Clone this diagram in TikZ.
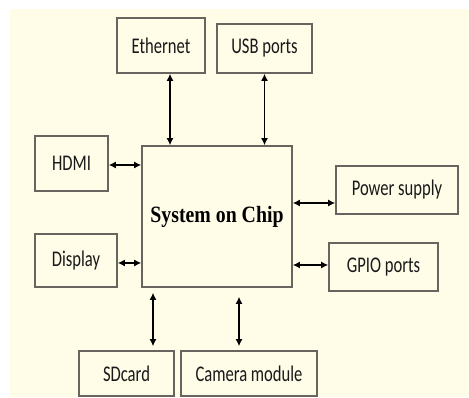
\documentclass[tikz,border=0pt]{standalone}
\usepackage{fontspec}
\setmainfont{Liberation Serif}
\newfontfamily\boxfont{Carlito}
\usepackage{graphicx}
\usepackage{tikz}
\usetikzlibrary{positioning,arrows.meta}

\definecolor{bgcream}{RGB}{255,252,232}
\definecolor{boxline}{RGB}{105,100,95}
\newcommand{\tallword}[1]{\scalebox{1}[1.35]{#1}}
\newcommand{\tallchip}[1]{\raisebox{5pt}{\scalebox{1}[1.18]{#1}}}

\begin{document}
\begin{tikzpicture}[
  x=1pt, y=1pt,
  blk/.style  = {draw=boxline, fill=bgcream, line width=1.6pt,
                 inner sep=0pt, align=center, text=black!90,
                 font=\boxfont\fontsize{16.6}{18}\selectfont},
  chip/.style = {blk, font=\bfseries\fontsize{19.8}{22}\selectfont,
                 text=black},
  ar/.style   = {{Latex[length=7pt,width=7pt]}-{Latex[length=7pt,width=7pt]},
                 draw=black, line width=1.5pt},
]

  % ---- page and background ----------------------------------
  \useasboundingbox (0,0) rectangle (469,398);
  \fill[bgcream] (10,1) rectangle (469,388.5);

  % ---- the chip ---------------------------------------------
  \node[chip, minimum width=150, minimum height=141] (soc) at (217,181.5)
       {\tallchip{System on Chip}};

  % ---- top row ----------------------------------------------
  \node[blk, minimum width=88, minimum height=55]  (eth)  at (161,352.5) {\tallword{Ethernet}};
  \node[blk, minimum width=95, minimum height=49]  (usb)  at (264.5,349.5) {\tallword{USB ports}};

  % ---- left side --------------------------------------------
  \node[blk, minimum width=73, minimum height=55]  (hdmi) at (71.5,234.5) {\tallword{HDMI}};
  \node[blk, minimum width=82, minimum height=53]  (disp) at (76,137.5) {\tallword{Display}};

  % ---- right side -------------------------------------------
  \node[blk, minimum width=122, minimum height=48] (pwr)  at (397,208) {\tallword{Power supply}};
  \node[blk, minimum width=109, minimum height=48] (gpio) at (383.5,131) {\tallword{GPIO ports}};

  % ---- bottom row -------------------------------------------
  \node[blk, minimum width=95, minimum height=45]  (sd)   at (126.5,24.5) {\tallword{SDcard}};
  \node[blk, minimum width=136, minimum height=45] (cam)  at (249,24.5) {\tallword{Camera module}};

  % ---- arrows -----------------------------------------------
  \draw[ar] ([xshift=9]eth.south) -- ([xshift=9]eth.south |- soc.north);
  \draw[ar] (usb.south) -- (usb.south |- soc.north);

  \draw[ar] ([yshift=-1.5]hdmi.east) -- ([yshift=-1.5]hdmi.east -| soc.west);
  \draw[ar] ([yshift=-2.5]disp.east) -- ([yshift=-2.5]disp.east -| soc.west);

  \draw[ar] ([yshift=-13]pwr.west) -- ([yshift=-13]pwr.west -| soc.east);
  \draw[ar] ([yshift=2]gpio.west) -- ([yshift=2]gpio.west -| soc.east);

  \draw[ar, shorten <=4pt, shorten >=5pt]
       ([xshift=26.5]sd.north) -- ([xshift=26.5]sd.north |- soc.south);
  \draw[ar, shorten <=4pt, shorten >=9pt]
       ([xshift=-10]cam.north) -- ([xshift=-10]cam.north |- soc.south);

\end{tikzpicture}
\end{document}
